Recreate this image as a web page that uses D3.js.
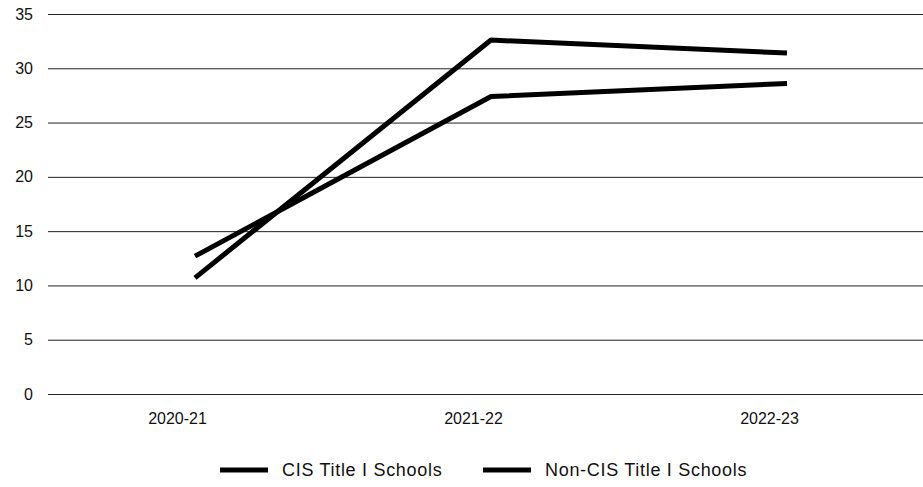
<!DOCTYPE html>
<html>
<head>
  <style>
    body { margin: 0; background: #fff; font-family: Arial, "Liberation Sans", sans-serif; }
  </style>
</head>
<body>
  <svg id="chart"></svg>
  <script src="https://cdn.jsdelivr.net/npm/d3@7"></script>
  <script>
    // data
    const years = ["2020-21", "2021-22", "2022-23"];
    const cisValues = [10.7, 32.6, 31.4];
    const nonCisValues = [12.7, 27.4, 28.6];
    const yTicks = [0, 5, 10, 15, 20, 25, 30, 35];
    const seriesNames = ["CIS Title I Schools", "Non-CIS Title I Schools"];

    const width = 923, height = 487;
    const font = "Arial, 'Liberation Sans', sans-serif";
    const svg = d3.select("#chart").attr("width", width).attr("height", height);

    const x = d3.scalePoint().domain(years).range([195, 787]);
    const y = d3.scaleLinear().domain([0, 35]).range([394, 14]);

    // gridlines + y labels
    const yAxis = d3.axisLeft(y).tickValues(yTicks).tickSize(0).tickPadding(0);
    const gy = svg.append("g").attr("transform", "translate(33,0)").call(yAxis);
    gy.select(".domain").remove();
    gy.selectAll("text").attr("font-size", 16).attr("fill", "#111")
      .attr("font-family", font);

    svg.append("g").selectAll("line").data(yTicks).join("line")
      .attr("x1", 48).attr("x2", width)
      .attr("y1", d => y(d) + 0.5).attr("y2", d => y(d) + 0.5)
      .attr("stroke", "#222").attr("stroke-width", 1);

    // x labels
    const xAxis = d3.axisBottom(x).tickSize(0).tickPadding(0);
    const gx = svg.append("g").attr("transform", "translate(-18,413)").call(xAxis);
    gx.select(".domain").remove();
    gx.selectAll("text").attr("font-size", 16).attr("fill", "#111")
      .attr("font-family", font);

    // lines
    const line = d3.line().x((d, i) => x(years[i])).y(d => y(d));
    [cisValues, nonCisValues].forEach(vals => {
      svg.append("path").datum(vals)
        .attr("d", line)
        .attr("fill", "none")
        .attr("stroke", "#000")
        .attr("stroke-width", 5)
        .attr("stroke-linejoin", "round");
    });

    // legend
    const legendX = [220, 483];
    const lg = svg.append("g").selectAll("g").data(seriesNames).join("g")
      .attr("transform", (d, i) => `translate(${legendX[i]},470)`);
    lg.append("line").attr("x1", 0).attr("x2", 48)
      .attr("stroke", "#000").attr("stroke-width", 5);
    lg.append("text").attr("x", 62).attr("dy", "0.35em")
      .attr("font-size", 18).attr("fill", "#111").attr("font-family", font)
      .attr("letter-spacing", 0.7)
      .text(d => d);
  </script>
</body>
</html>
